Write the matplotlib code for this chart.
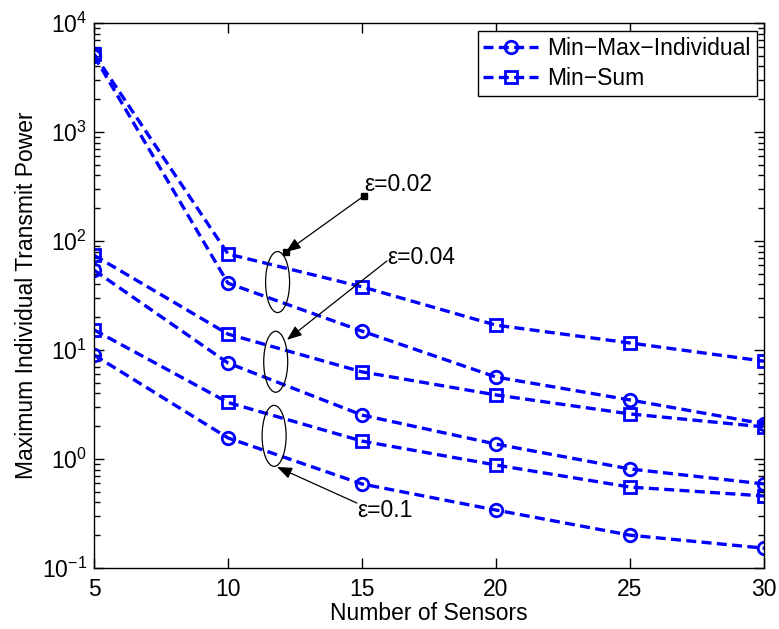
import matplotlib
matplotlib.use("Agg")
import matplotlib.pyplot as plt
from matplotlib.patches import Ellipse

plt.rcParams['font.family'] = ['Liberation Sans', 'DejaVu Sans']
plt.rcParams['mathtext.fontset'] = 'custom'
plt.rcParams['mathtext.rm'] = 'Liberation Sans'
plt.rcParams['mathtext.it'] = 'Liberation Sans'

sensors = [5, 10, 15, 20, 25, 30]

minmax_002 = [5000, 41, 14.9, 5.65, 3.48, 2.10]
minsum_002 = [5200, 76, 38, 16.9, 11.6, 7.9]
minmax_004 = [54, 7.6, 2.53, 1.37, 0.81, 0.59]
minsum_004 = [74, 14.0, 6.3, 3.87, 2.59, 1.97]
minmax_01 = [9.0, 1.56, 0.59, 0.34, 0.20, 0.152]
minsum_01 = [15.3, 3.3, 1.46, 0.88, 0.553, 0.458]

eps_labels = ['ε=0.02', 'ε=0.04', 'ε=0.1']
ellipse_centers = [(11.85, 42), (11.78, 7.8), (11.72, 1.63)]
arrow_tails = [(15.07, 259), (15.93, 65.6), (14.81, 0.394)]
arrow_heads = [(12.16, 79.3), (12.2, 12.4), (11.83, 0.845)]
text_pos = [(15.1, 330), (15.93, 71), (14.81, 0.34)]

fs = 16.5

fig = plt.figure(figsize=(7.79, 6.29), dpi=100)
ax = fig.add_axes([0.1207, 0.0970, 0.8600, 0.8664])

blue = '#0000ff'
style = dict(color=blue, linewidth=2.4, dashes=(3, 1.6), markersize=9,
             markerfacecolor='none', markeredgewidth=2)

ax.plot(sensors, minmax_002, marker='o', label='Min\u2212Max\u2212Individual', **style)
ax.plot(sensors, minsum_002, marker='s', label='Min\u2212Sum', **style)
ax.plot(sensors, minmax_004, marker='o', **style)
ax.plot(sensors, minsum_004, marker='s', **style)
ax.plot(sensors, minmax_01, marker='o', **style)
ax.plot(sensors, minsum_01, marker='s', **style)

ax.set_yscale('log')
ax.set_xlim(5, 30)
ax.set_ylim(0.1, 1e4)
ax.set_xticks(sensors)

ax.tick_params(which='both', direction='in', top=True, right=True, labelsize=fs,
               width=1)
ax.tick_params(which='major', length=7)
ax.tick_params(which='minor', length=4)
ax.tick_params(axis='x', pad=7)
ax.tick_params(axis='y', pad=5)
for s in ax.spines.values():
    s.set_linewidth(1)

ax.set_xlabel('Number of Sensors', fontsize=fs, labelpad=1)
ax.set_ylabel('Maximum Individual Transmit Power', fontsize=fs, labelpad=3)

fig.canvas.draw()
to_axes = lambda p: ax.transAxes.inverted().transform(ax.transData.transform(p))
for c in ellipse_centers:
    ca = to_axes(c)
    ax.add_patch(Ellipse(ca, width=24/670, height=61/545, transform=ax.transAxes,
                         fill=False, edgecolor='black', linewidth=0.9, zorder=5))

for i, (lab, tail, head, tp) in enumerate(zip(eps_labels, arrow_tails, arrow_heads, text_pos)):
    ax.annotate('', xy=head, xytext=tail,
                arrowprops=dict(arrowstyle='-|>,head_length=0.9,head_width=0.35',
                                color='black', lw=0.9, shrinkA=0, shrinkB=0), zorder=6)
    if i == 0:
        ax.plot([tail[0], head[0]], [tail[1], head[1]], linestyle='none', marker='s',
                markersize=5, color='black', zorder=7)
    ax.text(tp[0], tp[1], lab, fontsize=fs, ha='left', va='center', zorder=7)

leg = ax.legend(loc='upper right', fontsize=fs, fancybox=False, framealpha=1,
                edgecolor='black', handlelength=2.4, borderpad=0.25, labelspacing=0.3,
                handletextpad=0.4, bbox_to_anchor=(0.989, 0.985), borderaxespad=0)
leg.get_frame().set_linewidth(1)

fig.savefig('out.png', dpi=100)
